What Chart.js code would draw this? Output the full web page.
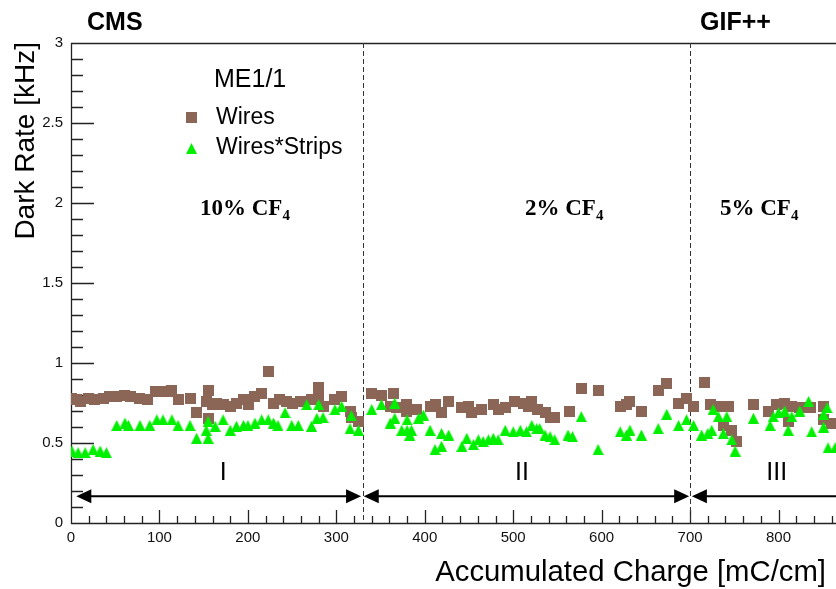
<!DOCTYPE html>
<html>
<head>
<meta charset="utf-8">
<title>ME1/1 dark rate</title>
<script src="https://cdn.jsdelivr.net/npm/chart.js@4.4.0/dist/chart.umd.min.js"></script>
<style>
  html, body { margin: 0; padding: 0; background: #fff; }
  #wrap { width: 836px; height: 589px; }
</style>
</head>
<body>
<div id="wrap"><canvas id="myChart" width="836" height="589"></canvas></div>
<script>
// accumulated charge [mC/cm] and dark rate [kHz]
const wiresX = [1, 6, 11, 19.6, 27, 36.5, 44, 51.7, 61, 67, 78, 86, 95, 104, 109, 114, 121, 135, 142, 153, 155, 155,
  160, 165, 172, 180, 187, 195, 200.5, 208, 215.6, 223, 229, 236, 244, 251, 259, 272, 280, 280, 285, 298.5, 306,
  315.5, 317, 325, 340, 351, 361, 364.5, 368, 379.6, 379.6, 391, 406, 411.6, 419, 427, 442, 449, 453, 464, 477.5,
  483, 491, 502, 511.5, 517, 521, 528, 536, 541.7, 547, 564, 577, 596, 621, 628, 632, 645, 664, 673.6, 687, 696,
  704, 716, 723, 734, 737.6, 743, 747, 752, 771.6, 788.6, 798, 807, 811, 815, 824, 836, 851, 851, 860];
const wiresY = [0.78, 0.77, 0.76, 0.78, 0.77, 0.78, 0.79, 0.79, 0.80, 0.79, 0.78, 0.77, 0.82, 0.82, 0.82, 0.83, 0.77, 0.78, 0.69, 0.76, 0.83, 0.655,
  0.74, 0.75, 0.74, 0.73, 0.75, 0.77, 0.74, 0.79, 0.81, 0.95, 0.75, 0.77, 0.76, 0.75, 0.76, 0.77, 0.85, 0.79, 0.73, 0.77, 0.79,
  0.70, 0.66, 0.635, 0.81, 0.80, 0.73, 0.81, 0.72, 0.74, 0.70, 0.71, 0.73, 0.74, 0.69, 0.76, 0.72, 0.73, 0.69, 0.71, 0.74,
  0.71, 0.72, 0.76, 0.75, 0.73, 0.76, 0.71, 0.69, 0.66, 0.66, 0.70, 0.84, 0.83, 0.73, 0.74, 0.76, 0.70, 0.83, 0.875, 0.75, 0.78,
  0.73, 0.88, 0.74, 0.73, 0.61, 0.73, 0.58, 0.51, 0.74, 0.70, 0.74, 0.75, 0.635, 0.73, 0.72, 0.72, 0.73, 0.645, 0.625];

const stripsX = [1, 8, 16, 25, 33, 40, 51.7, 61, 65, 78, 89, 97, 104, 114, 121, 134.6, 142, 153, 155, 155, 163, 172,
  180, 187, 195, 200, 208, 215.6, 223, 229, 234, 242, 249.6, 257, 266.5, 272, 278, 280, 285, 298.5, 306, 315.5,
  317, 325, 340, 351, 361, 366, 366, 374, 380, 380, 383, 385, 393, 398.5, 406, 411.6, 419, 419, 427, 442, 447.5,
  455, 460.6, 466, 472, 477.5, 483, 491, 500, 508, 515, 521, 526.6, 530, 536, 541.7, 547, 562, 567, 577, 596,
  621, 628, 632, 645, 664, 673.6, 687, 696, 704, 713, 720, 726, 724.5, 732, 737.6, 741.5, 747, 751, 771.6, 790.5,
  794, 800, 807, 811, 815, 824, 834, 837.5, 851, 851, 855, 856, 864];
const stripsY = [0.45, 0.44, 0.44, 0.46, 0.45, 0.44, 0.61, 0.625, 0.61, 0.61, 0.61, 0.645, 0.645, 0.645, 0.61, 0.61, 0.53, 0.58, 0.635, 0.53, 0.605, 0.645,
  0.58, 0.605, 0.61, 0.61, 0.625, 0.645, 0.645, 0.625, 0.61, 0.69, 0.61, 0.61, 0.74, 0.605, 0.655, 0.74, 0.66, 0.71, 0.73, 0.59,
  0.67, 0.58, 0.71, 0.74, 0.625, 0.75, 0.655, 0.58, 0.645, 0.58, 0.55, 0.58, 0.655, 0.675, 0.58, 0.46, 0.48, 0.56, 0.55, 0.48, 0.53,
  0.49, 0.52, 0.51, 0.52, 0.53, 0.52, 0.58, 0.57, 0.58, 0.57, 0.61, 0.59, 0.59, 0.55, 0.54, 0.52, 0.55, 0.54, 0.665, 0.46,
  0.57, 0.55, 0.58, 0.55, 0.59, 0.68, 0.61, 0.645, 0.61, 0.55, 0.56, 0.71, 0.58, 0.665, 0.56, 0.665, 0.52, 0.45, 0.655, 0.61,
  0.665, 0.69, 0.70, 0.58, 0.665, 0.70, 0.76, 0.57, 0.60, 0.68, 0.72, 0.47, 0.47];

const xTicks = [0, 100, 200, 300, 400, 500, 600, 700, 800];
const yTicks = [0, 0.5, 1, 1.5, 2, 2.5, 3];
const yTickLabels = ['0', '0.5', '1', '1.5', '2', '2.5', '3'];

// gas mixture periods
const gasChanges = [330, 700];
const periodNames = ['I', 'II', 'III'];
const periodStart = [6, 331, 702];
const periodEnd = [328, 699, 900];
const periodLabelX = [172, 510, 798];
const gasNames = ['10% CF', '2% CF', '5% CF'];

const FONT = '"Liberation Sans", Arial, sans-serif';
const SERIF = '"Liberation Serif", "Times New Roman", serif';
const BROWN = '#8b6656';
const GREEN = '#00f000';

const toPoints = (xs, ys) => xs.map((v, i) => ({ x: v, y: ys[i] }));

// ROOT style marker images
const makeMarker = (kind, size, color) => {
    const c = document.createElement('canvas');
    c.width = size;
    c.height = size;
    const g = c.getContext('2d');
    g.fillStyle = color;
    if (kind === 'square') {
        g.fillRect(0, 0, size, size);
    } else {
        g.beginPath();
        g.moveTo(size / 2, 0);
        g.lineTo(size, size);
        g.lineTo(0, size);
        g.closePath();
        g.fill();
    }
    return c;
}
const squareImg = makeMarker('square', 11, BROWN);
const triangleImg = makeMarker('triangle', 11, GREEN);

const arrowHead = (ctx, tipX, y, dir) => {
    ctx.beginPath();
    ctx.moveTo(tipX, y);
    ctx.lineTo(tipX + dir * 15, y - 7);
    ctx.lineTo(tipX + dir * 15, y + 7);
    ctx.closePath();
    ctx.fill();
}

const decorations = {
    id: 'decorations',
    beforeDatasetsDraw(chart) {
        const { ctx, chartArea: a, scales: { x, y } } = chart;
        ctx.save();
        ctx.strokeStyle = '#222';
        ctx.lineWidth = 1.3;
        ctx.beginPath();
        ctx.moveTo(a.left + 0.5, a.top);
        ctx.lineTo(a.left + 0.5, a.bottom + 0.5);
        ctx.lineTo(a.right, a.bottom + 0.5);
        ctx.moveTo(a.left, a.top + 0.5);
        ctx.lineTo(a.right, a.top + 0.5);
        // y ticks, minor every 0.1
        for (let i = 0; i <= 30; i++) {
            const py = Math.round(y.getPixelForValue(i / 10)) + 0.5;
            ctx.moveTo(a.left, py);
            ctx.lineTo(a.left + (i % 5 === 0 ? 23 : 12), py);
        }
        // x ticks, minor every 20
        for (let v = 0; v <= 860; v += 20) {
            const px = Math.round(x.getPixelForValue(v)) + 0.5;
            ctx.moveTo(px, a.bottom);
            ctx.lineTo(px, a.bottom - (v % 100 === 0 ? 13 : 7));
        }
        ctx.stroke();

        // gas change lines
        ctx.setLineDash([5, 3]);
        ctx.strokeStyle = '#333';
        ctx.lineWidth = 1;
        gasChanges.forEach((g) => {
            const px = Math.round(x.getPixelForValue(g)) + 0.5;
            ctx.beginPath();
            ctx.moveTo(px, a.top);
            ctx.lineTo(px, a.bottom);
            ctx.stroke();
        });
        ctx.setLineDash([]);

        // period arrows
        const ay = y.getPixelForValue(0.167);
        ctx.strokeStyle = '#000';
        ctx.fillStyle = '#000';
        ctx.lineWidth = 2;
        periodStart.forEach((s, i) => {
            const x0 = x.getPixelForValue(s);
            const x1 = x.getPixelForValue(periodEnd[i]);
            ctx.beginPath();
            ctx.moveTo(x0 + 5, ay);
            ctx.lineTo(x1 - 5, ay);
            ctx.stroke();
            arrowHead(ctx, x0, ay, 1);
            arrowHead(ctx, x1, ay, -1);
        });
        ctx.font = '25px ' + FONT;
        ctx.textAlign = 'center';
        ctx.textBaseline = 'alphabetic';
        periodNames.forEach((n, i) => {
            ctx.fillText(n, x.getPixelForValue(periodLabelX[i]), 480);
        });
        ctx.restore();
    },
    afterDraw(chart) {
        const { ctx } = chart;
        ctx.save();
        ctx.fillStyle = '#000';
        ctx.textBaseline = 'alphabetic';

        ctx.font = 'bold 25px ' + FONT;
        ctx.textAlign = 'left';
        ctx.fillText('CMS', 87, 30);
        ctx.fillText('GIF++', 700, 30);

        // axis titles
        ctx.font = '29.3px ' + FONT;
        ctx.textAlign = 'right';
        ctx.fillText('Accumulated Charge [mC/cm]', 826, 581);
        ctx.font = '28px ' + FONT;
        ctx.save();
        ctx.translate(34, 42);
        ctx.rotate(-Math.PI / 2);
        ctx.fillText('Dark Rate [kHz]', 0, 0);
        ctx.restore();

        // legend
        ctx.textAlign = 'left';
        ctx.font = '25px ' + FONT;
        ctx.fillText('ME1/1', 214, 87);
        ctx.font = '23px ' + FONT;
        ctx.fillText('Wires', 216, 124);
        ctx.fillText('Wires*Strips', 216, 154);
        ctx.drawImage(squareImg, 186, 112);
        ctx.drawImage(triangleImg, 186, 143);

        // gas mixtures
        ctx.fillStyle = '#000';
        const gx = [200, 525, 720];
        gasNames.forEach((g, i) => {
            ctx.font = 'bold 23px ' + SERIF;
            ctx.fillText(g, gx[i], 215);
            const w = ctx.measureText(g).width;
            ctx.font = 'bold 15px ' + SERIF;
            ctx.fillText('4', gx[i] + w, 220);
        });
        ctx.restore();
    }
};

const ctx = document.getElementById('myChart');

new Chart(ctx, {
    type: 'scatter',
    data: {
        datasets: [{
            label: 'Wires',
            data: toPoints(wiresX, wiresY),
            pointStyle: squareImg,
            backgroundColor: BROWN,
            borderWidth: 0,
            order: 1
        }, {
            label: 'Wires*Strips',
            data: toPoints(stripsX, stripsY),
            pointStyle: triangleImg,
            backgroundColor: GREEN,
            borderWidth: 0,
            order: 0
        }]
    },
    options: {
        responsive: false,
        animation: false,
        layout: { autoPadding: false, padding: { top: 43, left: 0, right: 0, bottom: 0 } },
        plugins: {
            legend: { display: false },
            tooltip: { enabled: false }
        },
        scales: {
            x: {
                type: 'linear',
                min: 0,
                max: 865,
                grid: { display: false, drawTicks: false },
                border: { display: false },
                afterFit: (s) => { s.height = 66; },
                afterBuildTicks: (s) => { s.ticks = xTicks.map((v) => ({ value: v })); },
                ticks: {
                    maxRotation: 0,
                    padding: 6,
                    color: '#111',
                    font: { family: FONT, size: 15 }
                }
            },
            y: {
                type: 'linear',
                min: 0,
                max: 3,
                grid: { display: false, drawTicks: false },
                border: { display: false },
                afterFit: (s) => { s.width = 71; },
                afterBuildTicks: (s) => { s.ticks = yTicks.map((v) => ({ value: v })); },
                ticks: {
                    padding: 8,
                    color: '#111',
                    font: { family: FONT, size: 15 },
                    callback: (v) => yTickLabels[yTicks.indexOf(v)]
                }
            }
        }
    },
    plugins: [decorations]
});
</script>
</body>
</html>
